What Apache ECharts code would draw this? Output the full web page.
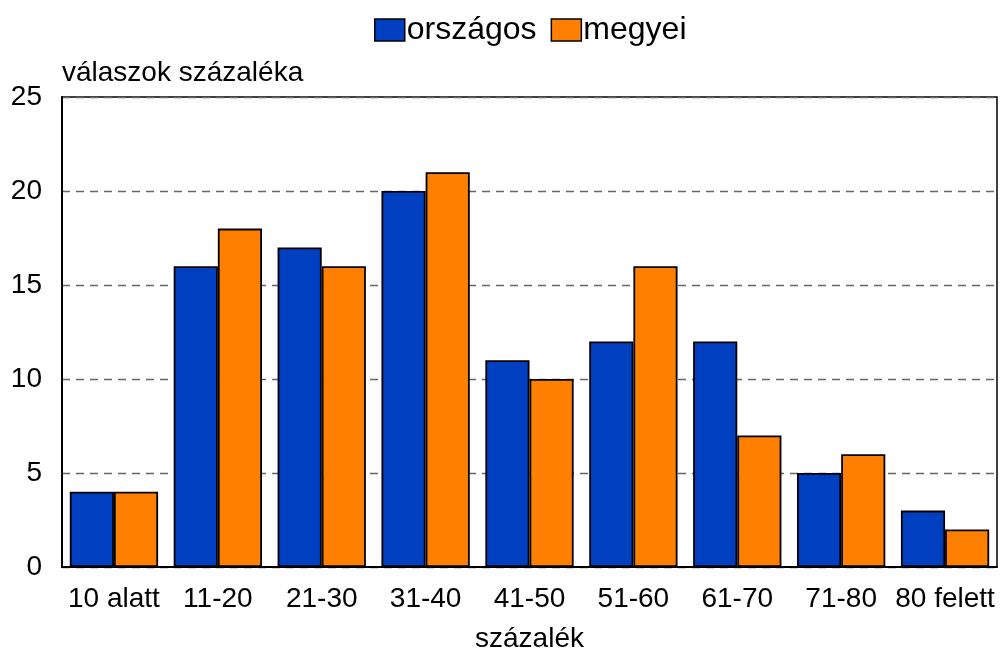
<!DOCTYPE html>
<html lang="hu">
<head>
    <meta charset="utf-8">
    <title>válaszok százaléka</title>
    <script src="https://cdn.jsdelivr.net/npm/echarts@6/dist/echarts.min.js"></script>
    <style>
        html, body { margin: 0; padding: 0; background: #fff; }
        #chart { width: 1000px; height: 655px; }
    </style>
</head>
<body>
    <div id="chart"></div>
    <script>
        var categories = ['10 alatt', '11-20', '21-30', '31-40', '41-50', '51-60', '61-70', '71-80', '80 felett'];
        var orszagos = [4, 16, 17, 20, 11, 12, 12, 5, 3];
        var megyei = [4, 18, 16, 21, 10, 16, 7, 6, 2];
        var yTicks = [0, 5, 10, 15, 20, 25];

        var font = 'Liberation Sans, Arial, sans-serif';

        var option = {
            animation: false,
            legend: {
                top: 9,
                left: 369,
                icon: 'rect',
                itemWidth: 30,
                itemHeight: 22,
                itemGap: 14,
                itemStyle: { borderColor: '#000', borderWidth: 1.5 },
                textStyle: { fontFamily: font, fontSize: 32, color: '#000', padding: [0, 0, 0, -3] },
                data: ['országos', 'megyei']
            },
            grid: {
                left: 62,
                right: 3,
                top: 97,
                bottom: 88,
                outerBoundsMode: 'none',
                show: true,
                borderColor: '#000',
                borderWidth: 1.5
            },
            xAxis: {
                type: 'category',
                data: categories,
                name: 'százalék',
                nameLocation: 'middle',
                nameGap: 58,
                nameTextStyle: { fontFamily: font, fontSize: 28, color: '#000' },
                axisLine: { lineStyle: { color: '#000', width: 2 } },
                axisTick: { show: false },
                axisLabel: { fontFamily: font, fontSize: 28, color: '#000', margin: 18, interval: 0 }
            },
            yAxis: {
                type: 'value',
                min: yTicks[0],
                max: yTicks[yTicks.length - 1],
                interval: 5,
                name: 'válaszok százaléka',
                nameLocation: 'end',
                nameGap: 10,
                nameTextStyle: { fontFamily: font, fontSize: 28, color: '#000', align: 'left' },
                axisLine: { show: true, lineStyle: { color: '#000', width: 2 } },
                axisTick: { show: false },
                axisLabel: { fontFamily: font, fontSize: 28, color: '#000', margin: 20 },
                splitLine: { lineStyle: { color: '#666', type: [8, 6], width: 1.3 } }
            },
            series: [{
                name: 'országos',
                type: 'bar',
                data: orszagos,
                barGap: '0%',
                barCategoryGap: '15%',
                itemStyle: { color: '#0040c0', borderColor: '#000', borderWidth: 1.8 }
            }, {
                name: 'megyei',
                type: 'bar',
                data: megyei,
                barGap: '0%',
                barCategoryGap: '15%',
                itemStyle: { color: '#ff8000', borderColor: '#000', borderWidth: 1.8 }
            }]
        };

        var chart = echarts.init(document.getElementById('chart'));
        chart.setOption(option);
    </script>
</body>
</html>
